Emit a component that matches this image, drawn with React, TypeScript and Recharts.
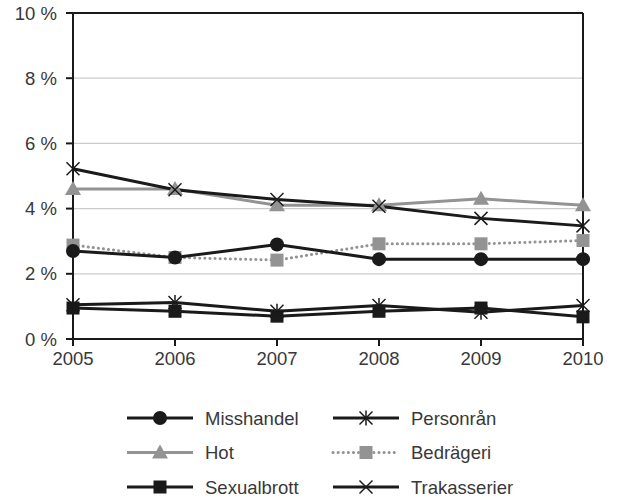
import React from 'react'
import {
  LineChart, Line, XAxis, YAxis, CartesianGrid, ReferenceLine, Legend,
} from 'recharts'

const years = ['2005', '2006', '2007', '2008', '2009', '2010']
const misshandel = [2.7, 2.5, 2.9, 2.45, 2.45, 2.45]
const hot = [4.6, 4.6, 4.1, 4.1, 4.3, 4.1]
const sexualbrott = [0.95, 0.85, 0.7, 0.85, 0.95, 0.68]
const personran = [1.05, 1.12, 0.85, 1.03, 0.82, 1.03]
const bedrageri = [2.88, 2.5, 2.42, 2.92, 2.92, 3.02]
const trakasserier = [5.22, 4.58, 4.28, 4.07, 3.7, 3.47]
const yTicks = [0, 2, 4, 6, 8, 10]

const data = years.map((year, i) => ({
  year,
  misshandel: misshandel[i],
  hot: hot[i],
  sexualbrott: sexualbrott[i],
  personran: personran[i],
  bedrageri: bedrageri[i],
  trakasserier: trakasserier[i],
}))

const BLACK = '#1a1a1a'
const GRAY = '#939393'
const TEXT = '#383838'
const FONT = '"Liberation Sans", Arial, sans-serif'

type Shape = 'circle' | 'triangle' | 'square' | 'asterisk' | 'cross'

function Marker({ shape, cx, cy, color }: { shape: Shape; cx: number; cy: number; color: string }) {
  if (shape === 'circle') return <circle cx={cx} cy={cy} r={7} fill={color} />
  if (shape === 'square') return <rect x={cx - 6.5} y={cy - 6.5} width={13} height={13} fill={color} />
  if (shape === 'triangle') {
    return <polygon points={`${cx},${cy - 8} ${cx + 8},${cy + 6} ${cx - 8},${cy + 6}`} fill={color} />
  }
  const s = 6.5
  if (shape === 'cross') {
    return (
      <g stroke={color} strokeWidth={1.5}>
        <line x1={cx - s} y1={cy - s} x2={cx + s} y2={cy + s} />
        <line x1={cx - s} y1={cy + s} x2={cx + s} y2={cy - s} />
      </g>
    )
  }
  return (
    <g stroke={color} strokeWidth={1.5}>
      <line x1={cx - s} y1={cy - s} x2={cx + s} y2={cy + s} />
      <line x1={cx - s} y1={cy + s} x2={cx + s} y2={cy - s} />
      <line x1={cx} y1={cy - s - 1} x2={cx} y2={cy + s + 1} />
    </g>
  )
}

const series: { key: string; name: string; color: string; shape: Shape; dash?: string }[] = [
  { key: 'misshandel', name: 'Misshandel', color: BLACK, shape: 'circle' },
  { key: 'personran', name: 'Personrån', color: BLACK, shape: 'asterisk' },
  { key: 'hot', name: 'Hot', color: GRAY, shape: 'triangle' },
  { key: 'bedrageri', name: 'Bedrägeri', color: GRAY, shape: 'square', dash: '0.1 5' },
  { key: 'sexualbrott', name: 'Sexualbrott', color: BLACK, shape: 'square' },
  { key: 'trakasserier', name: 'Trakasserier', color: BLACK, shape: 'cross' },
]

function makeDot(shape: Shape, color: string, name: string) {
  return (props: any) => (
    <Marker key={`${name}-${props.index}`} shape={shape} cx={props.cx} cy={props.cy} color={color} />
  )
}

function CustomLegend() {
  const rows = [0, 1, 2]
  return (
    <svg width={618} height={100} style={{ display: 'block' }}>
      {rows.map(r =>
        [0, 1].map(c => {
          const s = series[r * 2 + c]
          const x0 = c === 0 ? 127 : 333
          const y = 17 + r * 34.5
          return (
            <g key={s.key}>
              <line
                x1={x0} y1={y} x2={x0 + 66} y2={y}
                stroke={s.color} strokeWidth={3}
                strokeDasharray={s.dash}
                strokeLinecap={s.dash ? 'round' : 'butt'}
              />
              <Marker shape={s.shape} cx={x0 + 33} cy={y} color={s.color} />
              <text x={x0 + 78} y={y + 6.5} fontSize={18.5} fill={TEXT} fontFamily={FONT}>
                {s.name}
              </text>
            </g>
          )
        })
      )}
    </svg>
  )
}

export default function App() {
  const order = ['hot', 'bedrageri', 'misshandel', 'sexualbrott', 'personran', 'trakasserier']
  return (
    <div style={{ position: 'absolute', left: 0, top: 0, width: 618, height: 498, background: '#fff' }}>
      <LineChart
        width={618}
        height={498}
        data={data}
        margin={{ top: 13, right: 35, left: 11, bottom: 29 }}
        style={{ fontFamily: FONT }}
      >
        <CartesianGrid vertical={false} stroke="#cccccc" strokeWidth={1.2} />
        <XAxis
          dataKey="year"
          axisLine={{ stroke: BLACK, strokeWidth: 2 }}
          tickLine={{ stroke: BLACK, strokeWidth: 2 }}
          tickSize={7}
          tick={{ fontSize: 18.5, fill: TEXT, dy: 4 }}
          height={30}
          interval={0}
        />
        <YAxis
          domain={[0, 10]}
          ticks={yTicks}
          tickFormatter={(v: number) => `${v} %`}
          axisLine={{ stroke: BLACK, strokeWidth: 2 }}
          tickLine={{ stroke: BLACK, strokeWidth: 2 }}
          tickSize={7}
          tick={{ fontSize: 18.5, fill: TEXT, dx: -7 }}
          width={62}
          allowDataOverflow
        />
        <ReferenceLine y={10} stroke={BLACK} strokeWidth={2} />
        <ReferenceLine x="2010" stroke={BLACK} strokeWidth={2} />
        {order.map(k => {
          const s = series.find(x => x.key === k)!
          return (
            <Line
              key={s.key}
              type="linear"
              dataKey={s.key}
              name={s.name}
              stroke={s.color}
              strokeWidth={3}
              strokeDasharray={s.dash}
              strokeLinecap={s.dash ? 'round' : 'butt'}
              dot={makeDot(s.shape, s.color, s.name)}
              activeDot={false}
              isAnimationActive={false}
            />
          )
        })}
        <Legend
          content={() => <CustomLegend />}
          wrapperStyle={{ position: 'absolute', left: 0, top: 401, width: 618 }}
        />
      </LineChart>
    </div>
  )
}
